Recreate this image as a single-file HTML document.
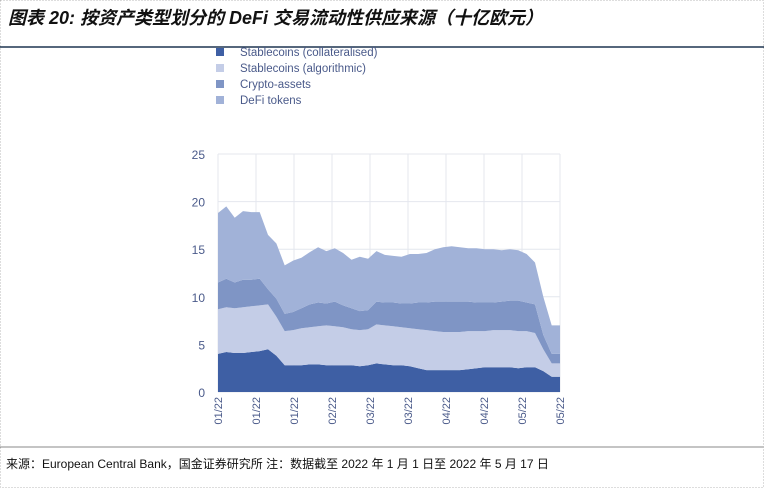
<!DOCTYPE html>
<html><head><meta charset="utf-8"><style>
body{margin:0;background:#fff;}
#wrap{position:relative;width:764px;height:488px;overflow:hidden;font-family:"Liberation Sans","Noto Sans CJK SC",sans-serif;}
</style></head><body>
<div id="wrap">
<svg id="svg" width="764" height="488" viewBox="0 0 764 488">
<rect x="0.5" y="0.5" width="763" height="487" fill="none" stroke="#bbb" stroke-dasharray="1,2"/>
<text x="8" y="24" font-size="18" font-style="italic" font-weight="bold" fill="#111" font-family="'Liberation Sans','Noto Sans CJK SC',sans-serif">图表 20: 按资产类型划分的 DeFi 交易流动性供应来源（十亿欧元）</text>
<line x1="0" y1="47" x2="764" y2="47" stroke="#1f3550" stroke-width="1.5"/>
<line x1="0" y1="447" x2="764" y2="447" stroke="#888" stroke-width="1"/>
<text x="6" y="468" font-size="12" fill="#111" font-family="'Liberation Sans','Noto Sans CJK SC',sans-serif">来源：European Central Bank，国金证券研究所 注：数据截至 2022 年 1 月 1 日至 2022 年 5 月 17 日</text>
<g id="grid"></g><g id="areas"></g><g id="axes"></g><g id="legend"></g>
</svg>
</div>
<script>
const seriesNames=["Stablecoins (collateralised)","Stablecoins (algorithmic)","Crypto-assets","DeFi tokens"];
const collateralised=[4.0,4.2,4.1,4.1,4.2,4.3,4.5,3.8,2.8,2.8,2.8,2.9,2.9,2.8,2.8,2.8,2.8,2.7,2.8,3.0,2.9,2.8,2.8,2.7,2.5,2.3,2.3,2.3,2.3,2.3,2.4,2.5,2.6,2.6,2.6,2.6,2.5,2.6,2.6,2.2,1.6,1.6];
const algorithmic=[4.7,4.7,4.7,4.8,4.8,4.8,4.7,4.1,3.6,3.7,3.9,3.9,4.0,4.2,4.1,4.0,3.8,3.8,3.8,4.1,4.1,4.1,4.0,4.0,4.1,4.2,4.1,4.0,4.0,4.0,4.0,3.9,3.8,3.9,3.9,3.9,3.9,3.8,3.6,2.3,1.4,1.4];
const cryptoAssets=[2.8,3.0,2.7,2.9,2.8,2.8,1.6,1.9,1.8,1.9,2.1,2.4,2.5,2.3,2.6,2.3,2.2,2.0,2.0,2.4,2.4,2.5,2.5,2.6,2.8,2.9,3.1,3.2,3.2,3.2,3.1,3.0,3.0,2.9,3.0,3.1,3.2,3.0,3.0,1.5,1.0,1.0];
const defiTokens=[7.3,7.6,6.8,7.2,7.1,7.0,5.7,5.8,5.1,5.4,5.3,5.5,5.8,5.5,5.6,5.5,5.1,5.7,5.4,5.3,5.0,4.9,4.9,5.2,5.1,5.2,5.5,5.7,5.8,5.7,5.6,5.7,5.6,5.6,5.4,5.4,5.3,5.1,4.4,4.0,3.0,3.0];
const yTicks=[0,5,10,15,20,25];
const xTickLabels=["01/22","01/22","01/22","02/22","03/22","03/22","04/22","04/22","05/22","05/22"];
const colors=["#3e5fa4","#c4cde7","#7f95c5","#a1b2d8"];
const NS="http://www.w3.org/2000/svg";
const X0=218,X1=560,Y0=392,Y1=154,YMAX=25;
const n=collateralised.length;
const xs=i=>X0+(X1-X0)*i/(n-1);
const ys=v=>Y0-(Y0-Y1)*v/YMAX;
function mk(t,a,p){const e=document.createElementNS(NS,t);for(const k in a)e.setAttribute(k,a[k]);p.appendChild(e);return e;}
const grid=document.getElementById('grid'),areas=document.getElementById('areas'),axes=document.getElementById('axes'),legend=document.getElementById('legend');
yTicks.forEach(t=>{
  const l=mk('line',{x1:X0,x2:X1,y1:ys(t),y2:ys(t),stroke:'#e4e7ee','stroke-width':1},grid);
  
  
  const tx=mk('text',{x:205,y:ys(t)+5,'text-anchor':'end','font-size':12,fill:'#4a5a8a'},axes);
  tx.textContent=t;
  
  
});
xTickLabels.forEach((lab,k)=>{
  const x=X0+(X1-X0)*k/(xTickLabels.length-1);
  const l=mk('line',{x1:x,x2:x,y1:Y1,y2:Y0,stroke:'#e4e7ee','stroke-width':1},grid);
  
  
  const tx=mk('text',{x:0,y:0,'text-anchor':'end','font-size':11,fill:'#4a5a8a',transform:`translate(${x+4},${Y0+5}) rotate(-90)`},axes);
  tx.textContent=lab;
  
  
});
const series=[collateralised,algorithmic,cryptoAssets,defiTokens];
const base=new Array(n).fill(0);
const areaNames=['area-collateralised','area-algorithmic','area-crypto-assets','area-defi-tokens'];
series.forEach((s,si)=>{
  const top=base.map((b,i)=>b+s[i]);
  let d='';
  for(let i=0;i<n;i++)d+=(i?'L':'M')+xs(i).toFixed(1)+','+ys(top[i]).toFixed(1);
  for(let i=n-1;i>=0;i--)d+='L'+xs(i).toFixed(1)+','+ys(base[i]).toFixed(1);
  const p=mk('path',{d:d+'Z',fill:colors[si],stroke:'none'},areas);
  
  
  for(let i=0;i<n;i++)base[i]=top[i];
});
seriesNames.forEach((nm,k)=>{
  const y=48+k*16;
  const r=mk('rect',{x:216,y:y,width:8,height:8,fill:colors[k]},legend);
  
  
  const t=mk('text',{x:240,y:y+8,'font-size':11.5,fill:'#4a5a8a'},legend);
  t.textContent=nm;
  
  
});
</script>
</body></html>
